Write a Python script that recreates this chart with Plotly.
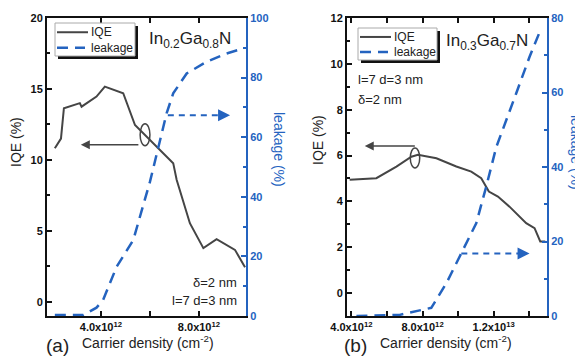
import plotly.graph_objects as go

# ---------------- data ----------------
# panel (a) In0.2Ga0.8N
a_iqe_x = [2.12, 2.37, 2.49, 3.14, 3.21, 3.82, 4.16, 4.91, 5.39, 5.73, 6.95, 7.09, 7.63, 8.18, 8.72, 9.47, 9.88]
a_iqe_y = [10.82, 11.5, 13.64, 14.0, 13.75, 14.46, 15.16, 14.7, 12.46, 11.88, 9.77, 8.6, 5.54, 3.78, 4.41, 3.66, 2.44]
a_leak_x = [2.12, 3.28, 3.82, 4.09, 4.64, 5.32, 6.0, 6.34, 6.68, 6.95, 7.5, 8.31, 9.13, 9.81]
a_leak_y = [0.3, 0.3, 2.8, 5.4, 16.5, 25.5, 45.0, 56.8, 68.0, 74.7, 81.4, 85.3, 88.1, 89.8]

# panel (b) In0.3Ga0.7N
b_iqe_x = [3.9, 5.4, 6.53, 7.37, 7.74, 8.78, 9.9, 10.74, 11.3, 11.73, 12.24, 12.89, 13.83, 14.3, 14.62, 14.9]
b_iqe_y = [4.94, 5.01, 5.52, 5.95, 6.03, 5.88, 5.52, 5.3, 5.01, 4.43, 4.21, 3.77, 3.05, 2.83, 2.25, 2.25]
b_leak_x = [4.28, 6.71, 7.93, 8.49, 9.34, 10.18, 11.02, 11.58, 12.15, 13.27, 14.02, 14.67]
b_leak_y = [0.0, 0.3, 1.6, 2.2, 8.8, 16.8, 24.9, 34.7, 45.4, 59.8, 69.6, 77.2]

UNIT = 1e12  # carrier density values above are in units of 1e12 cm^-2

a_xticks = [4, 6, 8]
a_xlabels = ["4.0x10<sup>12</sup>", "", "8.0x10<sup>12</sup>"]
b_xticks = [4, 6, 8, 10, 12, 14]
b_xlabels = ["4.0x10<sup>12</sup>", "", "8.0x10<sup>12</sup>", "", "1.2x10<sup>13</sup>", ""]

# ---------------- style ----------------
W, H = 583, 361
OFF = 8  # page body margin in the browser
GRAY = "#454545"
BLUE = "#2463bf"
FONT = "Liberation Sans, Arial, sans-serif"


def px(x):
    return (x - OFF) / W


def py(y):
    return 1 - (y - OFF) / H


def sc(v):
    return [t * UNIT for t in v]


fig = go.Figure()

fig.add_trace(go.Scatter(x=sc(a_iqe_x), y=a_iqe_y, mode="lines", name="IQE",
                         line=dict(color=GRAY, width=2), xaxis="x", yaxis="y"))
fig.add_trace(go.Scatter(x=sc(a_leak_x), y=a_leak_y, mode="lines", name="leakage",
                         line=dict(color=BLUE, width=2.5, dash="11px,7px"), xaxis="x", yaxis="y2"))
fig.add_trace(go.Scatter(x=sc(b_iqe_x), y=b_iqe_y, mode="lines", name="IQE",
                         line=dict(color=GRAY, width=2), xaxis="x2", yaxis="y3"))
fig.add_trace(go.Scatter(x=sc(b_leak_x), y=b_leak_y, mode="lines", name="leakage",
                         line=dict(color=BLUE, width=2.5, dash="11px,7px"), xaxis="x2", yaxis="y4"))

tickfont = dict(family=FONT, size=11, color="#111", weight="bold")
tickfont_b = dict(family=FONT, size=11, color=BLUE, weight="bold")

ydom = [py(316), py(18)]
xa_dom = [px(47), px(246)]
xb_dom = [px(347), px(547)]

common_x = dict(showgrid=False, zeroline=False, showline=True, linecolor="#111", linewidth=2,
                ticks="inside", ticklen=5, tickwidth=1.5, tickcolor="#111", mirror="ticks",
                tickfont=tickfont, automargin=False)
common_yl = dict(showgrid=False, zeroline=False, showline=True, linecolor="#111", linewidth=2,
                 ticks="inside", ticklen=5, tickwidth=1.5, tickcolor="#111", tickfont=tickfont,
                 automargin=False)
common_yr = dict(showgrid=False, zeroline=False, showline=True, linecolor=BLUE, linewidth=2,
                 ticks="inside", ticklen=5, tickwidth=1.5, tickcolor=BLUE, tickfont=tickfont_b,
                 side="right", automargin=False)

fig.update_layout(
    template="none",
    width=W, height=H, margin=dict(l=0, r=0, t=0, b=0, pad=0),
    paper_bgcolor="white", plot_bgcolor="white",
    font=dict(family=FONT, color="#222"),
    showlegend=False,
    xaxis=dict(domain=xa_dom, range=[1.8 * UNIT, 9.92 * UNIT], tickvals=sc(a_xticks), ticktext=a_xlabels,
               anchor="y", **common_x),
    yaxis=dict(domain=ydom, range=[-1, 20], tickvals=[0, 5, 10, 15, 20], anchor="x",
               minor=dict(ticks="inside", ticklen=3, tickcolor="#111", dtick=2.5), **common_yl),
    yaxis2=dict(domain=ydom, range=[0, 100], tickvals=[0, 20, 40, 60, 80, 100], overlaying="y", anchor="x",
                minor=dict(ticks="inside", ticklen=3, tickcolor=BLUE, dtick=10), **common_yr),
    xaxis2=dict(domain=xb_dom, range=[3.75 * UNIT, 15.0 * UNIT], tickvals=sc(b_xticks), ticktext=b_xlabels,
                anchor="y3", **common_x),
    yaxis3=dict(domain=ydom, range=[-1, 12], tickvals=[0, 2, 4, 6, 8, 10, 12], anchor="x2",
                minor=dict(ticks="inside", ticklen=3, tickcolor="#111", dtick=1), **common_yl),
    yaxis4=dict(domain=ydom, range=[0, 80], tickvals=[0, 20, 40, 60, 80], overlaying="y3", anchor="x2",
                minor=dict(ticks="inside", ticklen=3, tickcolor=BLUE, dtick=10), **common_yr),
)

shapes = []
ann = []


def txt(x, y, s, size=13, color="#222", xanchor="center", angle=0):
    ann.append(dict(x=px(x), y=py(y), xref="paper", yref="paper", text=s, showarrow=False,
                    xanchor=xanchor, yanchor="middle", textangle=angle,
                    font=dict(family=FONT, size=size, color=color)))


def legend_box(x0, y0, x1, y1):
    # shadow then white box with thin gray border
    shapes.append(dict(type="rect", xref="paper", yref="paper", x0=px(x0 + 3), x1=px(x1 + 3),
                       y0=py(y1 + 3), y1=py(y0 + 3), fillcolor="#111", line=dict(width=0), layer="above"))
    shapes.append(dict(type="rect", xref="paper", yref="paper", x0=px(x0), x1=px(x1),
                       y0=py(y1), y1=py(y0), fillcolor="white", line=dict(color="#aaa", width=1), layer="above"))
    ym1 = y0 + (y1 - y0) * 0.28
    ym2 = y0 + (y1 - y0) * 0.75
    shapes.append(dict(type="line", xref="paper", yref="paper", x0=px(x0 + 2), x1=px(x0 + 33),
                       y0=py(ym1), y1=py(ym1), line=dict(color=GRAY, width=2), layer="above"))
    shapes.append(dict(type="line", xref="paper", yref="paper", x0=px(x0 + 2), x1=px(x0 + 30),
                       y0=py(ym2), y1=py(ym2), line=dict(color=BLUE, width=2.5, dash="11px,7px"), layer="above"))
    txt(x0 + 34, ym1, "IQE", size=12, xanchor="left")
    txt(x0 + 34, ym2, "leakage", size=12, xanchor="left")


legend_box(55, 23, 135, 56)
legend_box(358, 28, 437, 60)

# ellipses
shapes.append(dict(type="circle", xref="x", yref="y", x0=5.6 * UNIT, x1=6.0 * UNIT, y0=11.0, y1=12.55,
                   line=dict(color=GRAY, width=1.5)))
shapes.append(dict(type="circle", xref="x2", yref="y3", x0=7.31 * UNIT, x1=7.84 * UNIT, y0=5.46, y1=6.33,
                   line=dict(color=GRAY, width=1.5)))
# dashed arrow shafts
shapes.append(dict(type="line", xref="x", yref="y2", x0=6.73 * UNIT, x1=9.0 * UNIT, y0=67.4, y1=67.4,
                   line=dict(color=BLUE, width=2, dash="6px,5px")))
shapes.append(dict(type="line", xref="x2", yref="y4", x0=10.18 * UNIT, x1=13.6 * UNIT, y0=16.8, y1=16.8,
                   line=dict(color=BLUE, width=2, dash="6px,5px")))
fig.update_layout(shapes=shapes)

# solid arrows pointing to left axis
ann.append(dict(x=3.18 * UNIT, y=11.06, ax=5.59 * UNIT, ay=11.06, xref="x", yref="y", axref="x", ayref="y",
                text="", showarrow=True, arrowhead=2, arrowsize=1.2, arrowwidth=1.5, arrowcolor=GRAY))
ann.append(dict(x=4.75 * UNIT, y=6.42, ax=7.65 * UNIT, ay=6.42, xref="x2", yref="y3", axref="x2", ayref="y3",
                text="", showarrow=True, arrowhead=2, arrowsize=1.2, arrowwidth=1.5, arrowcolor=GRAY))
# dashed arrow heads
ann.append(dict(x=9.27 * UNIT, y=67.4, ax=9.0 * UNIT, ay=67.4, xref="x", yref="y2", axref="x", ayref="y2",
                text="", showarrow=True, arrowhead=2, arrowsize=1.2, arrowwidth=2, arrowcolor=BLUE))
ann.append(dict(x=14.02 * UNIT, y=16.8, ax=13.6 * UNIT, ay=16.8, xref="x2", yref="y4", axref="x2", ayref="y4",
                text="", showarrow=True, arrowhead=2, arrowsize=1.2, arrowwidth=2, arrowcolor=BLUE))

txt(147, 40, "In<sub>0.2</sub>Ga<sub>0.8</sub>N", size=17, xanchor="left")
txt(444, 42, "In<sub>0.3</sub>Ga<sub>0.7</sub>N", size=17, xanchor="left")
txt(239, 282, "δ=2 nm", size=13, xanchor="right")
txt(239, 300, "l=7 d=3 nm", size=13, xanchor="right")
txt(356, 79, "l=7 d=3 nm", size=13, xanchor="left")
txt(356, 99, "δ=2 nm", size=13, xanchor="left")
txt(44, 345, "(a)", size=19, xanchor="left")
txt(80, 342, "Carrier density (cm<sup>-2</sup>)", size=14, xanchor="left")
txt(342, 345, "(b)", size=19, xanchor="left")
txt(378, 342, "Carrier density (cm<sup>-2</sup>)", size=14, xanchor="left")
txt(16, 142, "IQE (%)", size=14, angle=-90)
txt(318, 140, "IQE (%)", size=14, angle=-90)
txt(279, 149, "leakage (%)", size=14, color=BLUE, angle=90)
txt(576, 152, "leakage (%)", size=14, color=BLUE, angle=90)

fig.update_layout(annotations=ann)

fig.write_html("out.html")
